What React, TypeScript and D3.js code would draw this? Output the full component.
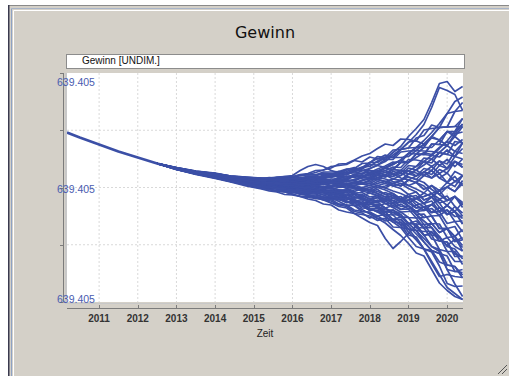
import React from "react";
import * as d3 from "d3";

// ---- data ----
const chartTitle = "Gewinn";
const legendLabel = "Gewinn [UNDIM.]";
const xAxisLabel = "Zeit";
const yearTicks = [2011, 2012, 2013, 2014, 2015, 2016, 2017, 2018, 2019, 2020];
// y values are offsets from 639.405 in units of 1e-6
const yTickValues = [-114.5, -57.25, 0, 57.25, 114.5];
const yTickLabels = ["639.405", "", "639.405", "", "639.405"];

const trunkYears = [2010.17, 2010.5, 2011, 2011.5, 2012, 2012.5];
const trunkValues = [55, 50, 43, 36, 30, 24];

const runYears = [
  2013, 2013.5, 2014, 2014.4, 2014.8, 2015.2, 2015.4, 2015.6, 2015.8, 2016.0, 2016.2,
  2016.4, 2016.6, 2016.8, 2017.0, 2017.2, 2017.4, 2017.6, 2017.8, 2018.0, 2018.2,
  2018.4, 2018.6, 2018.8, 2019.0, 2019.2, 2019.4, 2019.6, 2019.8, 2020.0, 2020.2, 2020.4,
];

const run01 = [19,16,13,10.5,8.7,7.7,8,7.5,6.9,7.9,9,9.2,8.7,11.5,13,16,14.5,17.5,20,25,29,28,35,41,51,59,68,85,104,106,96,101];
const run02 = [19,15.5,13,10,8,7,6,7,7.5,6.5,6,8.5,9.5,9.5,12,12,16,19,19,25,25,30,30,38,45,53,63,80,100,97,93,77];
const run03 = [19.5,16,13.5,11,9,8,9,10,11,12,17,21,23,21,17,15,18,20,17,19,22,20,24,27,25,30,35,33,40,46,42,48];
const run04 = [19,15.5,13,10.5,9,8,8.5,9.5,9,10,12.5,13,15,17.5,19.5,23.5,24,27.5,31.5,34,39,43.5,42,48.5,48,46.5,43.5,51,47.5,56,51,61];
const run05 = [19,14.5,11,7.5,4.5,1.5,0.5,-1,-2.5,-4,-6.5,-7,-10,-12.5,-15.5,-19,-20.5,-26,-30.5,-35,-38,-51,-61,-54,-46,-38,-48,-45,-50,-58,-52,-60];
const run06 = [18.5,14.5,11,7.5,5,2,1,0.5,-1.5,-1.5,-4.5,-6,-6.5,-9.5,-10,-14,-17.5,-18,-24,-25,-31,-31,-39.5,-40,-50,-59,-61.5,-74,-87,-100,-106,-112];
const run07 = [19,14.5,11.5,8,5,3.5,2,1.5,-0.5,-0.5,-3,-3,-5.5,-5.5,-9,-9,-13.5,-16.5,-17,-23,-22.5,-29,-34.5,-35,-44.5,-52.5,-61.5,-64.5,-78.5,-96,-99,-98.5];
const run08 = [19,15,12,8.5,6,3.5,3,1.5,1.5,-0.5,-1,-3,-5,-4.5,-8,-10,-10.5,-15,-15.5,-21,-24.5,-24.5,-32,-32,-41.5,-43,-54.5,-63,-66,-82,-96.5,-109];
const run09 = [18.5,14.5,11,8,5,3,2.5,1,1,-1,-1.5,-1,-4,-5.5,-5.5,-5,-9.5,-12,-15.5,-15,-20.5,-27,-27.5,-35,-41.5,-51,-61.5,-76,-89,-87,-89,-90];
const run10 = [19,15,12,9,6.5,4,4.5,3.5,2,2,0,0.5,-2,-3.5,-3.5,-6.5,-6.5,-10.5,-10,-15,-14.5,-20.5,-25,-29.5,-30,-40,-47.5,-59,-64,-82,-84,-82];
const run11 = [19,15.5,12.5,10,8,6,5.5,6,5,5.5,6,6,5,7.5,6.5,10,9,13,12,11.5,16.5,19.5,18,25,25,33.5,33,43.5,43,56,56,69];
const run12 = [19,15,11.5,8.5,5.5,3.5,2,2,2,0,0,-2,-2,-1.5,-4.5,-4,-8,-7,-12,-11.5,-10,-16,-15.5,-22,-21.5,-30.5,-30,-28.5,-41,-41,-54,-50];
const run13 = [19,15,12,9.5,7,5.5,5.5,4.5,5,4.5,3.5,4.5,2.5,3.5,1,2,-1,0.5,-3.5,-2,2,-0.5,4,1.5,7.5,5,12,9.5,18,14.5,26,20];
const run14 = [19,14.5,12,8.5,5.5,3,2.5,1,-0.5,-0.5,-3,-4.5,-5,-7.5,-10,-10,-15,-15,-20.5,-21,-20.5,-20.5,-27.5,-27,-36,-36.5,-47.5,-47.5,-62,-64,-64,-77];
const run15 = [19.5,15.5,13,10.5,8,7.5,6.5,7.5,7,8,7.5,10,9.5,12.5,12,16,18.5,19,24,24.5,31,30,37.5,38,39.5,40,40,40,47.5,42,51,44.5];
const run16 = [19,14.5,11,8,4.5,1.5,0.5,-1,-2.5,-4,-5,-7.5,-10,-12.5,-13.5,-17.5,-19,-24,-25.5,-30.5,-28.5,-33.5,-32,-37.5,-36,-36.5,-37,-36,-45,-41,-49,-42];
const run17 = [19.5,16,13.5,11,9.5,9,8.5,9.5,10,9.5,12,12.5,12.5,15.5,15.5,16,14.5,17.5,15.5,15,14.5,12.5,18,17,25,33.5,40,51,60,74,76,85];
const run18 = [19,15,12.5,9,7,5.5,6,5,5.5,5,4,5,6,5.5,4.5,3.5,2,0.5,-1.5,-4,-2,-7,-6,-11.5,-9.5,-17.5,-16,-25,-24,-18,-24,-31];
const run19 = [18.5,14.5,11,7.5,5,2.5,2.5,1.5,2,0.5,1.5,0.5,1.5,0.5,2,1,3.5,2,5,4,8,6,4,7,2,5,-2,2,-7,0.5,-4,4];
const run20 = [19,15.5,12,9,6,3.5,3.5,2,2,0,0,-2,-4,-3.5,-6.5,-9,-12,-12,-17,-17,-16.5,-20.5,-18,-22,-18.5,-24,-19.5,-25,-20,-27,-19,-28.5];
const run21 = [19.5,15.5,13,10,8.5,6.5,7,6.5,7.5,6.5,8.5,8.5,10.5,10.5,13,13.5,13,16,13.5,13.5,12.5,10.5,13.5,9.5,7.5,5,1.5,-6,-11.5,-8.5,-19,-25.5];
const run22 = [18.5,14,10.5,7,3.5,1,-1,-1.5,-3.5,-4,-7,-7.5,-11,-11.5,-15.5,-16.5,-17.5,-18,-18.5,-23,-20.5,-24.5,-22.5,-27,-36,-43,-51,-59,-62,-77.5,-79,-87.5];
const run23 = [19.5,16,14,11.5,10.5,9,10,9.5,10.5,10.5,12.5,13,13,13.5,13,13.5,13,16,13.5,17,14.5,17,13.5,17,13.5,17.5,12,17,9.5,14.5,6,12];
const run24 = [18.5,14.5,11.5,8,6,3.5,4,3,3.5,2.5,3.5,4.5,3.5,5.5,6.5,6,9,11.5,10,15,18.5,21.5,25.5,25,34,33.5,33,32,30.5,37.5,31,39];
const run25 = [19,15.5,12,9,6,3.5,2.5,2.5,1.5,2,2,3,3.5,2.5,4.5,3.5,2,0.5,-3.5,-2,-6,-9.5,-13,-11.5,-18.5,-24,-30,-28.5,-41,-41,-54,-52.5];
const run26 = [18,14,10,7,4,1,1,-0.5,-0.5,-1.5,-1.5,-3,-2,-3.5,-2.5,-4,-2.5,-4,-1.5,-4,0,1.5,4,1.5,7.5,11.5,15.5,13,22,19,31,28.5];
const run27 = [19,15,12.5,9,6.5,5,3.5,3.5,2,2,0,0.5,-2,-3.5,-5.5,-7.5,-10.5,-13.5,-17,-21,-24.5,-29,-34.5,-40,-41.5,-43,-44,-44,-53.5,-50,-59,-63.5];
const run28 = [19,15,12,9,6.5,5.5,4.5,5,4,5,4,6,5,7.5,8.5,8.5,11.5,11.5,10,9.5,8,6,4,7,10.5,8,15.5,21,14,19,26,23];
const run29 = [19,15.5,12.5,10,8,6.5,6.5,6,7,6,5.5,5,4,3.5,4.5,2,0.5,-1,-3.5,-5.5,-8,-11.5,-15.5,-14,-12.5,-11,-9,-6,-15.5,-13,-9,-17.5];
const run30 = [18.5,14,11,7,4.5,1.5,1,-1,-1.5,-1.5,-2,-2,-4,-2.5,-4.5,-2.5,-5,-2.5,-1.5,0,2,4,1.5,4,-1,-4.5,-12.5,-9.5,-20,-27,-24,-36.5];
const run31 = [19.5,16,13.5,10.5,8,7,6,6,4.5,5,5.5,7,8,9.5,11,13.5,13,17.5,20.5,21,26.5,30.5,30,38,39.5,49.5,52,62.5,60,60.5,61,69];
const run32 = [18.5,14,10.5,7,3.5,0,-1.5,-3,-4.5,-6.5,-9,-11.5,-13,-16.5,-17.5,-22.5,-24.5,-26,-27,-28.5,-33,-31,-32,-32,-38.5,-46.5,-54.5,-63,-74.5,-77.5,-79,-90.5];
const run33 = [19,15,12,9,7,5,5,4,4.5,3.5,2.5,2,0.5,-0.5,0,-2.5,-2.5,-1,0,2,4,6,8.5,7,13.5,17.5,22.5,28.5,35,33,46,44.5];
const run34 = [19.5,16,14,11.5,10.5,9.5,9.5,10.5,11,11,13,14,17,17.5,21,22,23,27,25.5,30.5,28.5,32.5,30,30,31,37,43.5,51,60,60.5,76,77];
const run35 = [18,13.5,9.5,6,2.5,-1,-2,-4,-4.5,-7,-8.5,-9,-10,-10.5,-11,-11.5,-15,-13.5,-17,-15,-14.5,-13.5,-18,-14,-18.5,-27,-33.5,-40,-49,-59,-61.5,-71.5];
const run36 = [19.5,15.5,13,10,8.5,7.5,7.5,7,8,7.5,7,7,6,5.5,4.5,6,3.5,5,7,9.5,12.5,15,18,17,16.5,14.5,12,17,9.5,5,16,12];
const run37 = [19,14.5,11.5,8,5,3,1.5,1,-0.5,0,0,0.5,0.5,-0.5,1,2,3.5,5,3.5,7.5,10,12.5,11,14.5,10.5,8,5,-2,-7,-13,-9,-15];
const run38 = [20,16.5,14.5,11.5,9.5,9,8,8.5,7.5,8,7,8.5,7,8.5,6.5,8.5,6,8,10,13.5,16.5,19.5,23,27.5,34,40,47,55,64,74,86,90.5];
const run39 = [18,13,9,5.5,1.5,-1.5,-3.5,-4.5,-7,-7.5,-9,-10,-11,-11.5,-12,-12.5,-13.5,-18,-22,-26.5,-31,-35.5,-42,-48,-56,-65.5,-68.5,-82,-95.5,-103,-109,-112];
const run40 = [20,16,13.5,11,8.5,7,7,6,6.5,5,5.5,4.5,5,3.5,4.5,2.5,3.5,0.5,-1.5,-4,-6,-9.5,-8,-14,-12.5,-11,-9,-6,-3,0.5,6,4];
const run41 = [18.5,13.5,10,7,4.5,2,1.5,1.5,1.5,0,0.5,-0.5,-2,-3.5,-5.5,-7.5,-10.5,-13.5,-13.5,-19,-18.5,-24.5,-25,-24.5,-24,-24,-23,-21,-28,-22.5,-29,-28.5];
const run42 = [19.5,16,13,10.5,9,8,8.5,9,8.5,9,9,9,8.5,8.5,7.5,7,6,5,3.5,2,0,-2.5,-6,-11.5,-18.5,-27,-37,-47.5,-49,-64,-74,-74];
const run43 = [19,15,12.5,9.5,8,5.5,6,5.5,6.5,5.5,7,7,8.5,8.5,11,11,10.5,10,8.5,7.5,12.5,10.5,16,14.5,22,21,29.5,28.5,22,28,21,28.5];
const run44 = [19,14.5,11.5,8,5.5,2.5,2,0.5,0,0.5,-1,0.5,-1,0.5,-1,-4,-3.5,-7,-7,-11.5,-14.5,-11.5,-15.5,-11.5,-15.5,-11,-16,-9.5,-15.5,-27,-24,-36.5];
const run45 = [19.5,16,13,10,7.5,5.5,5.5,4,4,2.5,2.5,1,1.5,-0.5,0,-2.5,-2.5,-5.5,-5,-9.5,-8,-13.5,-13,-19,-18.5,-27,-26.5,-36,-36.5,-50,-49,-63.5];
const run46 = [18.5,14.5,11.5,8.5,6,4.5,4.5,4.5,3.5,4.5,3.5,5,4,6.5,5.5,8.5,7.5,11.5,10,15,14.5,19.5,18,25,25,33.5,33,43.5,43,42,53.5,55.5];
const run47 = [19,15,12,9,6,4,2.5,2.5,1,0.5,-1.5,-1,-4,-3.5,-6.5,-6.5,-10.5,-10.5,-10,-13.5,-10,-13.5,-10.5,-14,-9.5,-14.5,-19.5,-25,-24,-36,-34,-44.5];
const run48 = [19,15.5,13,10.5,8,7.5,6.5,6,5,5.5,4,5,3.5,4.5,2,3.5,4.5,3.5,7,5.5,10,8.5,6,4,2,-1.5,-5.5,2,-3,-13,-9,-20];
const run49 = [18.5,14,11,7.5,4.5,2,0.5,0,-2,-2.5,-5,-5,-5.5,-7.5,-6.5,-9,-8,-10.5,-8.5,-11.5,-8,-11.5,-8,-11.5,-7,-11,-5.5,-9.5,-3,0.5,-4,7];
const run50 = [19.5,16,13.5,11,9.5,7.5,7,8,7.5,8.5,8.5,11,10.5,10.5,10,12,10.5,13,10,13.5,10,12.5,8.5,12,16.5,21,26,24.5,35,33,31,44.5];
const run51 = [18.5,14,10,6,3.5,0,-0.5,-1,-2.5,-2.5,-4.5,-3.5,-5.5,-4.5,-6.5,-5,-8,-5.5,-8.5,-5.5,-8,-5,-8,-14,-12.5,-20.5,-19.5,-28.5,-28,-41,-39,-52.5];
const run52 = [19,15,12.5,9.5,7,6,5.5,6,6.5,5.5,7,8.5,9.5,11.5,13,13.5,17.5,17.5,17,17,16.5,15,13.5,12,19.5,17.5,26,32,39,46.5,56,63.5];
const run53 = [19,15,12,8.5,6,3.5,3,3,3,1.5,1.5,-0.5,-0.5,-2.5,-2.5,-5,-5,-9,-12,-15,-18.5,-22.5,-22.5,-29.5,-30,-40,-40.5,-51.5,-53.5,-54.5,-66.5,-69];
const run54 = [19.5,15.5,12.5,9,6.5,5,5,5,4,3,3.5,2,2.5,0.5,1,3.5,2,5,7,9.5,8,12.5,11,17,16.5,11.5,15.5,9.5,14,5,11,1.5];
const run55 = [19,14.5,11,7.5,4.5,1.5,0,-1.5,-3,-4.5,-5.5,-8.5,-9.5,-9.5,-12,-11.5,-15,-13.5,-17,-15,-18.5,-16,-20,-16.5,-21.5,-17.5,-23,-17,-24,-18,-24,-15];
const run56 = [19.5,15.5,13,10.5,7.5,6,5,5,3.5,3.5,2,3,4,3.5,5.5,5,7.5,6.5,10,9.5,14.5,17,20.5,20,28,27.5,26,21,26.5,19,26,20.5];
const run57 = [18.5,14.5,11,8,5,3.5,2.5,3,2,2.5,1.5,3,1.5,3.5,2,4.5,3.5,2,0,-2,-4,-7,-10.5,-9,-15.5,-20.5,-19.5,-17,-11.5,-18,-9,-17.5];
const run58 = [20,16.5,14,11,9.5,7.5,8,7,7.5,6,7,6,7,5.5,6.5,4.5,6,8,10,13.5,16.5,19.5,23,27.5,34,40,42,49.5,47.5,56,53.5,63.5];
const run59 = [18,13.5,9.5,6,2.5,-0.5,-2.5,-3,-3.5,-5.5,-5.5,-7.5,-7.5,-9.5,-9,-11.5,-10.5,-13.5,-12,-15,-12.5,-16,-20,-24.5,-30,-30.5,-40.5,-40,-53.5,-54.5,-69,-69];
const run60 = [19.5,16,14,11.5,10,9.5,9,10,9.5,9,10.5,10,11.5,10.5,12,11,13,16,18.5,23,22.5,28,28,35.5,36.5,37,36.5,36,35,42,36,44.5];
const run61 = [19,14.5,11.5,8.5,6,3.5,4,3,3.5,2.5,3.5,3,4,3.5,5.5,5,7.5,6.5,5,4,2,-0.5,-3.5,-6,-9.5,-8,-16,-13.5,-24,-22.5,-34,-33.5];
const run62 = [19,15.5,12,9.5,6.5,5,3.5,3.5,2,2,0,0.5,-2,-1.5,-1,0,0.5,2,3.5,2,6,4,8.5,7,13.5,11.5,19,17,26.5,23.5,36,34];
const run63 = [18.5,14,10.5,7,4.5,1,0.5,-1.5,-2,-4,-5,-7.5,-8.5,-11.5,-12,-16.5,-17.5,-22.5,-24,-24.5,-28.5,-27,-32,-29.5,-36,-33.5,-40.5,-36,-45,-41,-49,-58];
const run64 = [19.5,15.5,13,10.5,8.5,7,7.5,8,8.5,9,9,11.5,11.5,14.5,14,15,14.5,14.5,13.5,19,22.5,26,32.5,38,45.5,46.5,57.5,59,60,60.5,61,61];
const run65 = [18,13.5,10,6.5,3.5,0.5,0.5,-1,-1,-2.5,-2,-3.5,-3,-4.5,-3.5,-5,-3.5,-5.5,-10,-15,-20.5,-24.5,-32,-37.5,-47.5,-49.5,-61.5,-63,-66,-68.5,-84,-85];
const run66 = [19,15,12,9,7,4.5,5,4,4.5,3.5,5,4.5,6,7.5,6.5,10,9,13,12,11.5,8,6,1.5,-1,-7,-4.5,-12.5,-9.5,-3,5,1,12];

const runs = [
  run01, run02, run03, run04, run05, run06, run07, run08, run09, run10, run11, run12, run13, run14,
  run15, run16, run17, run18, run19, run20, run21, run22, run23, run24, run25, run26, run27, run28,
  run29, run30, run31, run32, run33, run34, run35, run36, run37, run38, run39, run40, run41, run42,
  run43, run44, run45, run46, run47, run48, run49, run50, run51, run52, run53, run54, run55, run56,
  run57, run58, run59, run60, run61, run62, run63, run64, run65, run66,
];

// ---- layout ----
const W = 509;
const H = 376;
const plot = { left: 67, right: 463, top: 73, bottom: 302 };
const LINE = "#3b4fa6";
const SANS = "'Liberation Sans', Arial, sans-serif";

export default function App() {
  const x = d3.scaleLinear().domain([2010.17, 2020.41]).range([plot.left, plot.right]);
  const y = d3.scaleLinear().domain([-114.5, 114.5]).range([plot.bottom, plot.top]);
  const line = d3
    .line<[number, number]>()
    .x((d) => x(d[0]))
    .y((d) => y(d[1]));

  const trunkPts: [number, number][] = trunkYears.map((t, i) => [t, trunkValues[i]] as [number, number]);
  const trunkPath = line([...trunkPts, [runYears[0], runs[0][0]]]) || "";

  const paths = runs.map((r) => {
    const pts: [number, number][] = [trunkPts[trunkPts.length - 1]];
    runYears.forEach((t, i) => pts.push([t, r[i]]));
    return line(pts) || "";
  });

  const labelY = (v: number, i: number) => {
    const py = y(v);
    if (i === yTickValues.length - 1) return py + 13;
    if (i === 0) return py + 1;
    return py + 5;
  };

  return (
    <div style={{ position: "absolute", left: 0, top: 0 }}>
      <svg width={W} height={H} style={{ display: "block" }}>
        <rect x={0} y={0} width={W} height={H} fill="#ffffff" />
        {/* window frame */}
        <rect x={8} y={5} width={W - 8} height={H - 5} fill="#d4d0c8" />
        <line x1={8} y1={5.5} x2={W} y2={5.5} stroke="#8a8a8a" strokeWidth={1} />
        <line x1={8.75} y1={5} x2={8.75} y2={H} stroke="#3a3a4e" strokeWidth={1.5} />
        <line x1={11.5} y1={8.5} x2={11.5} y2={H} stroke="#8ea2c4" strokeWidth={1} />
        <line x1={11.5} y1={8.5} x2={W} y2={8.5} stroke="#a8b4c8" strokeWidth={1} />
        <line x1={13.5} y1={10.5} x2={13.5} y2={H} stroke="#ffffff" strokeWidth={1} />
        <line x1={13.5} y1={10.5} x2={W} y2={10.5} stroke="#ffffff" strokeWidth={1} />
        {/* resize grip */}
        <line x1={498} y1={374} x2={507} y2={365} stroke="#555" strokeWidth={1} />
        <line x1={502} y1={374} x2={507} y2={369} stroke="#555" strokeWidth={1} />

        {/* title */}
        <text x={265} y={38} textAnchor="middle" fontFamily="'DejaVu Sans', sans-serif" fontSize={16} fill="#111">
          {chartTitle}
        </text>

        {/* legend box */}
        <rect x={66.5} y={54.5} width={398} height={14} fill="#ffffff" stroke="#8c8c8c" />
        <text x={82} y={63.5} fontFamily={SANS} fontSize={10} fill="#111">
          {legendLabel}
        </text>

        {/* plot background */}
        <rect x={plot.left} y={plot.top} width={plot.right - plot.left} height={plot.bottom - plot.top} fill="#ffffff" />
        <line x1={plot.left - 1} y1={plot.top} x2={plot.left - 1} y2={plot.bottom + 2} stroke="#c8c8c8" strokeWidth={2} />
        <line x1={plot.left - 2} y1={plot.bottom + 1.5} x2={plot.right} y2={plot.bottom + 1.5} stroke="#c8c8c8" strokeWidth={1} />

        {/* grid */}
        {yearTicks.map((t) => (
          <line key={"gx" + t} x1={x(t)} x2={x(t)} y1={plot.top} y2={plot.bottom} stroke="#d9d9d9" strokeDasharray="2,2" strokeWidth={1} />
        ))}
        {yTickValues.slice(1, -1).map((v) => (
          <line key={"gy" + v} x1={plot.left} x2={plot.right} y1={y(v)} y2={y(v)} stroke="#d9d9d9" strokeDasharray="2,2" strokeWidth={1} />
        ))}

        {/* runs */}
        <defs>
          <clipPath id="plotClip">
            <rect x={plot.left} y={plot.top} width={plot.right - plot.left} height={plot.bottom - plot.top} />
          </clipPath>
        </defs>
        <g clipPath="url(#plotClip)">
          <path d={trunkPath} fill="none" stroke={LINE} strokeWidth={2.6} strokeLinejoin="round" />
          {paths.map((d, i) => (
            <path key={i} d={d} fill="none" stroke={LINE} strokeWidth={1.7} strokeLinejoin="round" />
          ))}
        </g>

        {/* y axis */}
        <line x1={63.5} y1={plot.top} x2={63.5} y2={plot.bottom} stroke="#7c7c7c" strokeWidth={1} />
        {yTickValues.map((v) => (
          <line key={"ty" + v} x1={60} x2={63.5} y1={Math.round(y(v)) + 0.5} y2={Math.round(y(v)) + 0.5} stroke="#7c7c7c" />
        ))}
        {yTickValues.map((v, i) =>
          yTickLabels[i] ? (
            <text key={"ly" + v} x={57} y={labelY(v, i)} fontFamily={SANS} fontSize={10.5} fill="#4a5cb0">
              {yTickLabels[i]}
            </text>
          ) : null
        )}

        {/* x axis */}
        <line x1={plot.left} y1={308.5} x2={plot.right} y2={308.5} stroke="#7c7c7c" strokeWidth={1} />
        {yearTicks.map((t) => (
          <line key={"tx" + t} x1={Math.round(x(t)) + 0.5} x2={Math.round(x(t)) + 0.5} y1={305} y2={308.5} stroke="#7c7c7c" />
        ))}
        {yearTicks.map((t) => (
          <text key={"lx" + t} x={x(t)} y={322} textAnchor="middle" fontFamily={SANS} fontSize={10} fontWeight="bold" fill="#333">
            {t}
          </text>
        ))}
        <text x={265} y={337} textAnchor="middle" fontFamily={SANS} fontSize={10} fill="#222">
          {xAxisLabel}
        </text>
      </svg>
    </div>
  );
}
